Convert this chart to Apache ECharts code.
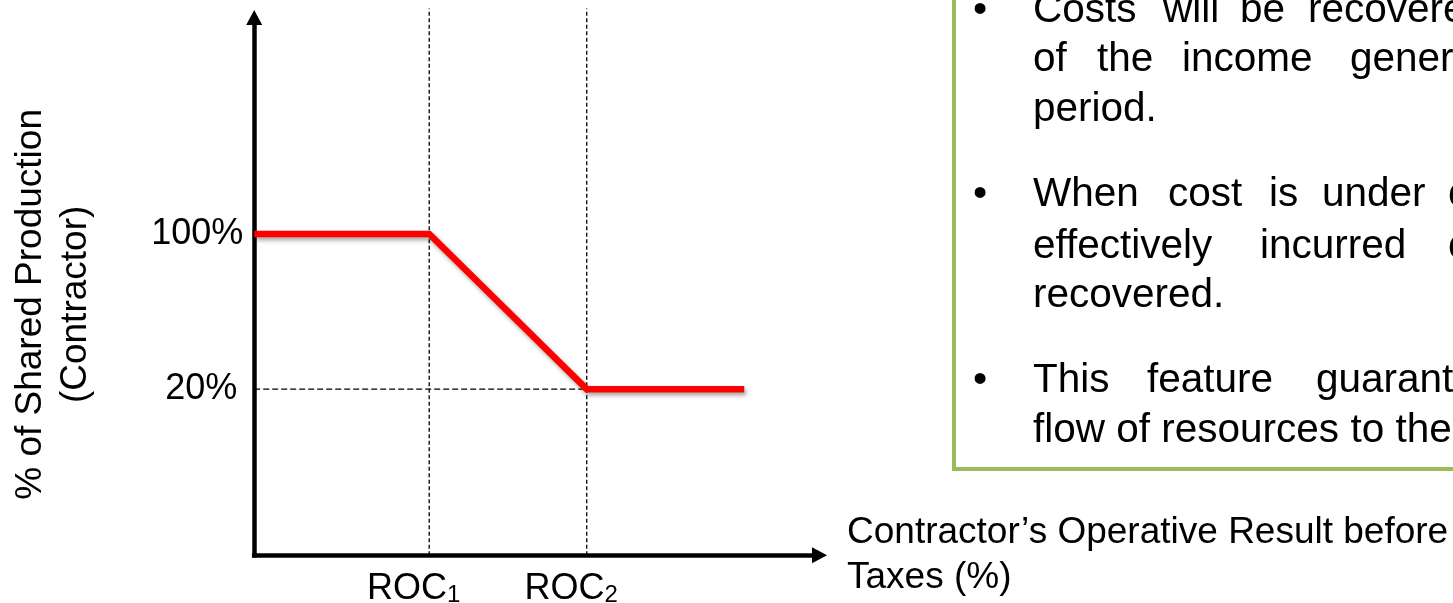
<!DOCTYPE html>
<html><head><meta charset="utf-8">
<script src="https://cdn.jsdelivr.net/npm/echarts@6/dist/echarts.min.js"></script>
<style>html,body{margin:0;padding:0;background:#fff}#c{width:1453px;height:603px}</style>
</head><body><div id="c"></div>
<script>
// ---- data (schematic units) ----
const xPoints = [0, 10, 19, 28];          // start, ROC1, ROC2, end of curve
const sharePct = [100, 100, 20, 20];      // % of shared production (contractor)
const rocValues = [10, 19];               // ROC1, ROC2 positions
const rocSubscripts = ['1', '2'];
const yTickValues = [100, 20];
const xMin = 0, xMax = 32.3;
const yMin = -65.7, yMax = 211.7;
const guideTop = 216.3;

const FONT = "'Liberation Sans', Arial, sans-serif";

const chart = echarts.init(document.getElementById('c'), null, {renderer: 'canvas'});

// text box lines (bullet text, justified in the original)
const boxLines = [
  {b: 23, bullet: true, words: [[1033, 'Costs'], [1163, 'will'], [1240, 'be'], [1308, 'recovered']]},
  {b: 72, words: [[1033, 'of'], [1097, 'the'], [1182, 'income'], [1350, 'generated']]},
  {b: 122, words: [[1033, 'period.']]},
  {b: 207, bullet: true, words: [[1033, 'When'], [1168, 'cost'], [1269, 'is'], [1322, 'under'], [1448, 'cap,']]},
  {b: 259, words: [[1033, 'effectively'], [1260, 'incurred'], [1448, 'can']]},
  {b: 308.5, words: [[1033, 'recovered.']]},
  {b: 393.5, bullet: true, words: [[1033, 'This'], [1147, 'feature'], [1316, 'guarantees']]},
  {b: 443.5, words: [[1033, 'flow of resources to the']]}
];
const BOX_FS = 40.5;
const midOff = BOX_FS * 0.31;
const graphicEls = [{
  type: 'rect', z: 10,
  shape: {x: 954, y: -50, width: 700, height: 519},
  style: {fill: 'none', stroke: '#9BBB59', lineWidth: 4}
}];
boxLines.forEach(l => {
  if (l.bullet) {
    graphicEls.push({type: 'text', z: 11, style: {text: '•', x: 980, y: l.b - midOff, textAlign: 'center', textVerticalAlign: 'middle', font: BOX_FS + 'px ' + FONT, fill: '#000'}});
  }
  l.words.forEach(w => {
    graphicEls.push({type: 'text', z: 11, style: {text: w[1], x: w[0], y: l.b - midOff, textAlign: 'left', textVerticalAlign: 'middle', font: BOX_FS + 'px ' + FONT, fill: '#000'}});
  });
});

const guideStyle = (dash) => ({color: '#000', width: 1.3, type: dash});

const option = {
  animation: false,
  backgroundColor: '#fff',
  grid: {left: 254.2, top: 17.5, right: 633.5, bottom: 47.7, containLabel: false, outerBoundsMode: 'none'},
  xAxis: {
    type: 'value', min: xMin, max: xMax,
    splitLine: {show: false},
    axisTick: {show: false},
    axisLine: {show: true, onZero: false, symbol: ['none', 'triangle'], symbolSize: [16, 15],
      lineStyle: {color: '#000', width: 4.5, cap: 'square'}},
    axisLabel: {
      customValues: rocValues,
      margin: 16,
      align: 'center',
      padding: [0, 31, 0, 0],
      formatter: (v) => '{m|ROC}{s|' + rocSubscripts[rocValues.indexOf(v)] + '}',
      rich: {
        m: {fontSize: 36, fontFamily: FONT, color: '#000', verticalAlign: 'bottom', lineHeight: 36},
        s: {fontSize: 24, fontFamily: FONT, color: '#000', verticalAlign: 'bottom', lineHeight: 36}
      }
    },
    name: 'Contractor\u2019s Operative Result before\nTaxes (%)',
    nameLocation: 'end',
    nameGap: 27.5,
    nameMoveOverlap: false,
    nameTextStyle: {fontSize: 37, fontFamily: FONT, color: '#000', lineHeight: 45, align: 'left', padding: [6, 0, 0, 0]}
  },
  yAxis: {
    type: 'value', min: yMin, max: yMax,
    splitLine: {show: false},
    axisTick: {show: false},
    axisLine: {show: true, onZero: false, symbol: ['none', 'triangle'], symbolSize: [16, 15],
      lineStyle: {color: '#000', width: 4.5, cap: 'square'}},
    axisLabel: {
      customValues: yTickValues,
      margin: 11,
      formatter: (v) => v === 20 ? '{b|' + v + '%}' : '{a|' + v + '%}',
      rich: {
        a: {fontSize: 36, fontFamily: FONT, color: '#000'},
        b: {fontSize: 36, fontFamily: FONT, color: '#000', padding: [0, 6, 0, 0]}
      }
    },
    name: '% of Shared Production\n(Contractor)',
    nameLocation: 'middle',
    nameGap: 156,
    nameMoveOverlap: false,
    nameTextStyle: {fontSize: 37, fontFamily: FONT, color: '#000', lineHeight: 45, align: 'center', padding: [0, 36, 0, 0]}
  },
  series: [
    {type: 'line', silent: true, clip: false, symbol: 'none', z: 1,
      data: [[rocValues[0], yMin], [rocValues[0], guideTop]], lineStyle: guideStyle([4, 2.5])},
    {type: 'line', silent: true, clip: false, symbol: 'none', z: 1,
      data: [[rocValues[1], yMin], [rocValues[1], guideTop]], lineStyle: guideStyle([4, 2.5])},
    {type: 'line', silent: true, clip: false, symbol: 'none', z: 1,
      data: [[xMin, sharePct[2]], [rocValues[1], sharePct[2]]], lineStyle: guideStyle([6, 3])},
    {type: 'line', silent: true, clip: false, symbol: 'none', z: 3,
      data: xPoints.map((x, i) => [x, sharePct[i]]),
      lineStyle: {color: '#FF0000', width: 6.5, join: 'miter', cap: 'butt',
        shadowColor: 'rgba(0,0,0,0.35)', shadowBlur: 4, shadowOffsetX: 2, shadowOffsetY: 3}}
  ],
  graphic: {elements: graphicEls}
};
chart.setOption(option);
</script>
</body></html>
